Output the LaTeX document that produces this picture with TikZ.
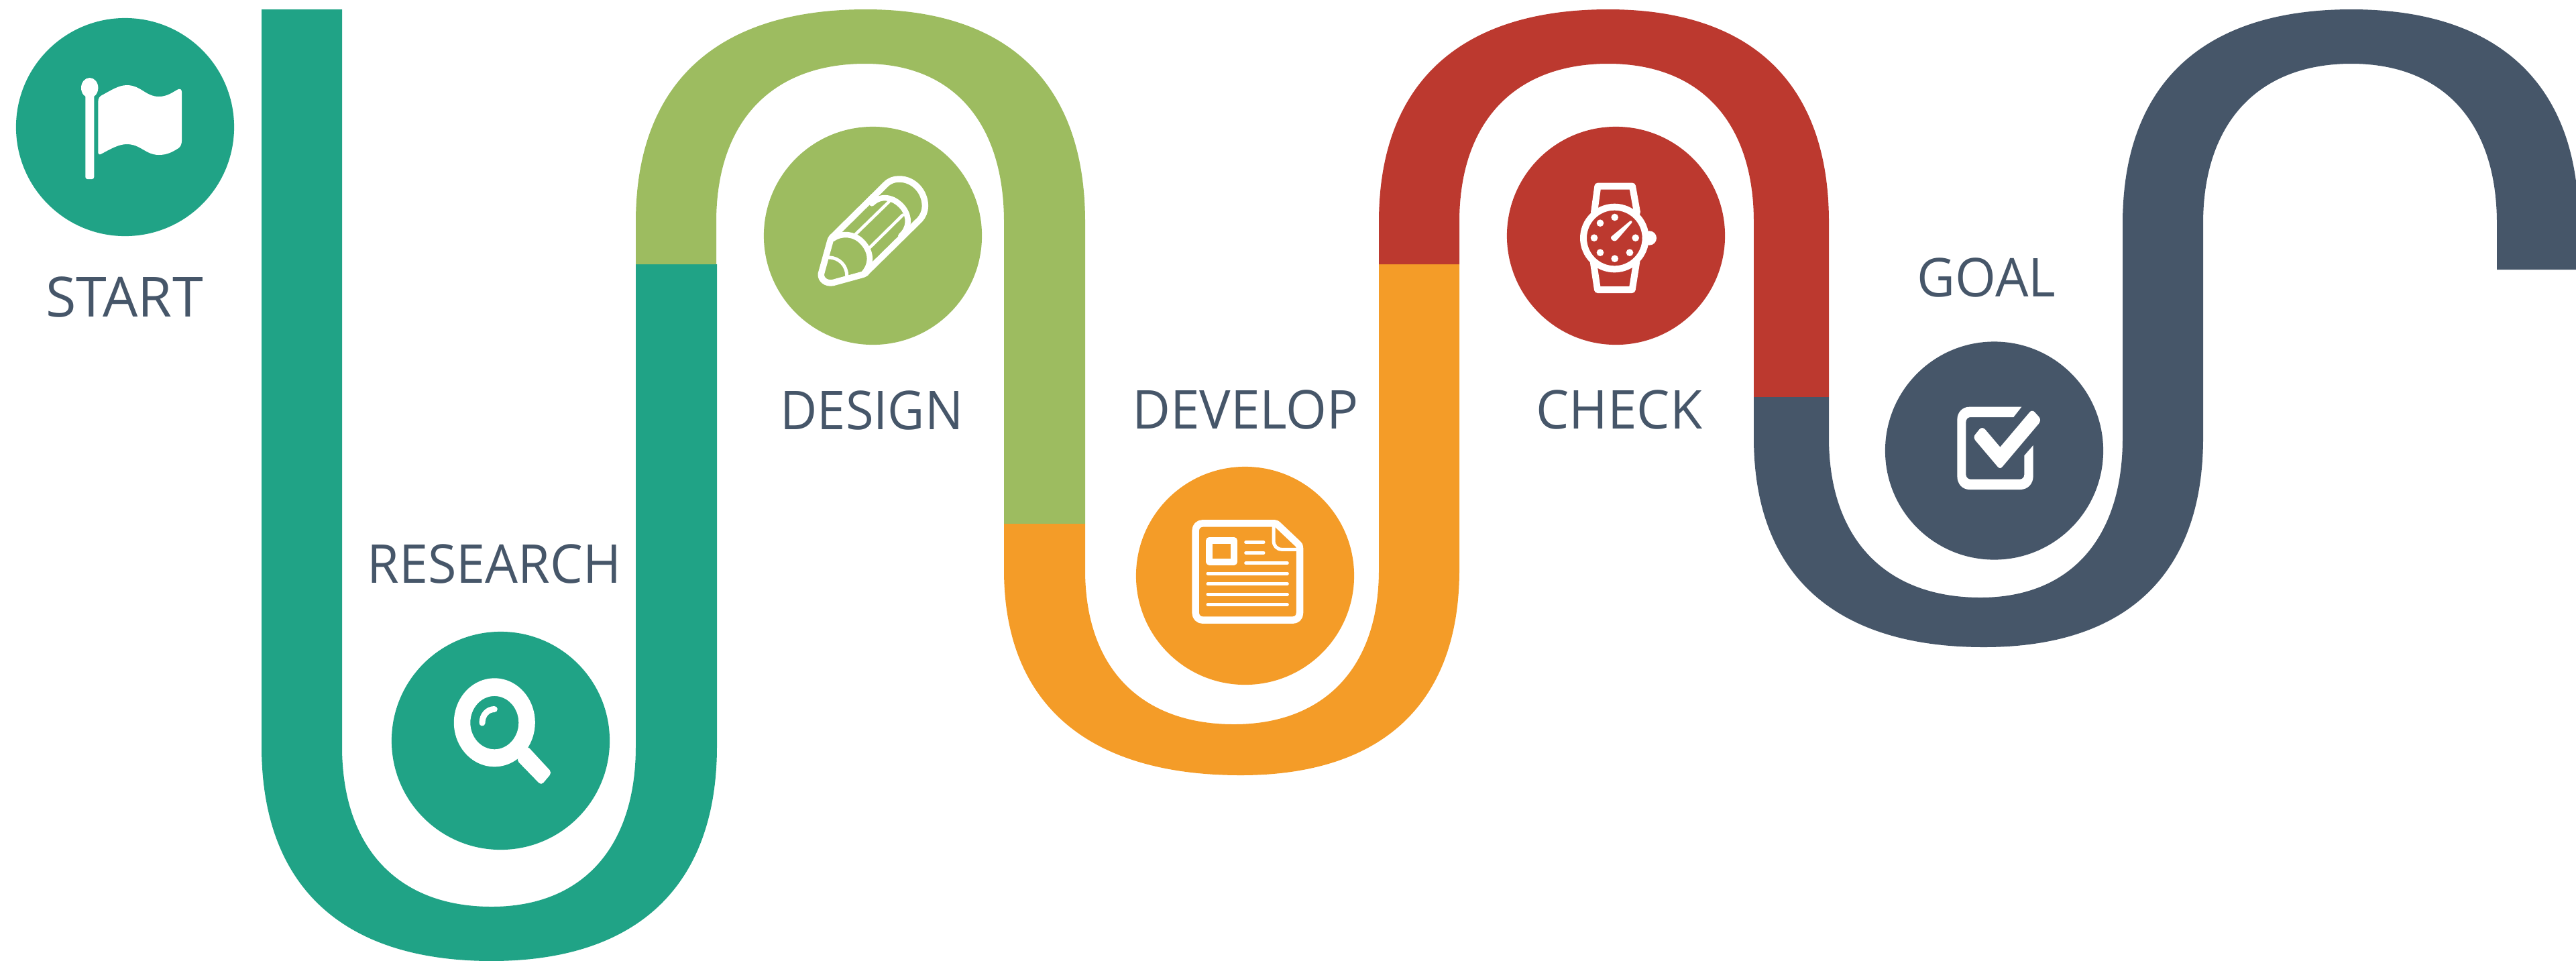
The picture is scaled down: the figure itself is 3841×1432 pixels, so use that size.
\documentclass[tikz,border=0pt]{standalone}
\usepackage{fontspec}
\usepackage{graphicx}
\setmainfont{Open Sans}
\definecolor{cteal}{HTML}{20A386}
\definecolor{cgreen}{HTML}{9DBC60}
\definecolor{corange}{HTML}{F49C28}
\definecolor{cred}{HTML}{BC392F}
\definecolor{cnavy}{HTML}{465669}
\tikzset{
  stagecircle/.style={circle,minimum size=3.25cm,inner sep=0pt,fill=#1},
  stagelabel/.style={anchor=base,inner sep=0pt,text=cnavy,font=\fontsize{22.7pt}{26pt}\selectfont},
  icon/.style={shift={#1},scale=0.33333},
  iconline/.style={draw=white,line width=#1,line join=round,line cap=round,fill=none}
}
\begin{document}
\begin{tikzpicture}[x=0.01cm,y=-0.01cm]
\clip (0,0) rectangle (3841,1432);
% ribbons
\fill[cteal] (390,14) -- (390,1113) .. controls (390,1321) and (510,1433) .. (733,1433) .. controls (950,1433) and (1069,1321) .. (1069,1113) -- (1069,394) -- (948,394) -- (948,1113) .. controls (948,1264) and (868,1352) .. (733,1352) .. controls (593,1352) and (510,1264) .. (510,1113) -- (510,14) -- cycle;
\fill[cgreen] (948,394) -- (948,331) .. controls (948,125) and (1068,14) .. (1291,14) .. controls (1504,14) and (1618,125) .. (1618,331) -- (1618,781) -- (1497,781) -- (1497,331) .. controls (1497,182) and (1420,95) .. (1290,95) .. controls (1150,95) and (1068,182) .. (1068,331) -- (1068,394) -- cycle;
\fill[corange] (1497,781) -- (1497,850) .. controls (1497,1049) and (1621,1156) .. (1850,1156) .. controls (2061,1156) and (2176,1049) .. (2176,850) -- (2176,394) -- (2056,394) -- (2056,850) .. controls (2056,995) and (1975,1080) .. (1840,1080) .. controls (1700,1080) and (1618,995) .. (1618,850) -- (1618,781) -- cycle;
\fill[cred] (2056,394) -- (2056,331) .. controls (2056,125) and (2176,14) .. (2398,14) .. controls (2612,14) and (2727,125) .. (2727,331) -- (2727,592) -- (2615,592) -- (2615,331) .. controls (2615,182) and (2535,95) .. (2398,95) .. controls (2258,95) and (2176,182) .. (2176,331) -- (2176,394) -- cycle;
\fill[cnavy] (2615,592) -- (2615,653) .. controls (2615,856) and (2735,965) .. (2958,965) .. controls (3171,965) and (3285,856) .. (3285,653) -- (3285,490) -- (3165,490) -- (3165,653) .. controls (3165,803) and (3087,891) .. (2953,891) .. controls (2811,891) and (2727,803) .. (2727,653) -- (2727,592) -- cycle;
\fill[cnavy] (3165,490) -- (3165,333) .. controls (3165,126) and (3284,14) .. (3506,14) .. controls (3726,14) and (3845,126) .. (3845,333) -- (3845,402) -- (3723,402) -- (3723,333) .. controls (3723,183) and (3643,95) .. (3506,95) .. controls (3367,95) and (3285,183) .. (3285,333) -- (3285,490) -- cycle;
% circles
\node[stagecircle=cteal] (cstart) at (186.5,189.5) {};
\node[stagecircle=cteal] (cresearch) at (746.5,1104.5) {};
\node[stagecircle=cgreen] (cdesign) at (1301.5,351.5) {};
\node[stagecircle=corange] (cdevelop) at (1856.5,858.5) {};
\node[stagecircle=cred] (ccheck) at (2409.5,351.5) {};
\node[stagecircle=cnavy] (cgoal) at (2973.5,672) {};
% labels
\node[stagelabel] (lstart) at (185.5,472) {\scalebox{1.035}{START}};
\node[stagelabel] (lresearch) at (737,869) {\scalebox{0.968}[1]{RESEARCH}};
\node[stagelabel] (ldesign) at (1300,640) {\scalebox{0.95}[1]{DESIGN}};
\node[stagelabel] (ldevelop) at (1857,639) {\scalebox{0.98}[1]{DEVELOP}};
\node[stagelabel] (lcheck) at (2414,639) {\scalebox{0.98}[1]{CHECK}};
\node[stagelabel] (lgoal) at (2962,442) {\scalebox{0.98}[1]{GOAL}};
% flag
\begin{scope}
\fill[white] (133.7,131) ellipse (12.7 and 15);
\fill[white,rounded corners=0.03cm] (127.3,140) -- (127.3,267) -- (140.3,267) -- (140.3,140) -- cycle;
\fill[white] (146.3,152) .. controls (146.3,146) and (149,143.5) .. (152,142) .. controls (165,135) and (177,127) .. (189,127) .. controls (210,127) and (217,144) .. (237,144) .. controls (250,144) and (258,137) .. (266,133) .. controls (269,132) and (271,134) .. (271,137) -- (271,210) .. controls (271,215) and (269,219) .. (266,221) .. controls (258,226) and (250,231) .. (237,231) .. controls (217,231) and (210,215) .. (189,215) .. controls (177,215) and (165,222) .. (152,229) .. controls (149,231) and (146.3,231) .. (146.3,227) -- cycle;
\end{scope}
% magnifier
\begin{scope}
\fill[white,even odd rule] (737.3,1077.3) ellipse (60.5 and 66) (737.3,1077.6) ellipse (36 and 39.7);
\fill[white,rounded corners=0.05cm] (786,1112) -- (823,1152) -- (807,1171) -- (770,1133) -- cycle;
\draw[iconline=0.9mm] (719,1078) .. controls (719,1066) and (727,1057.5) .. (737.3,1057.5);
\end{scope}
% pencil
\begin{scope}[icon={(1130,170)}]
\draw[iconline=0.95mm] (331,553) -- (572,315) .. controls (590,297) and (610,291) .. (632,291) .. controls (700,291) and (748,350) .. (748,410) .. controls (748,435) and (740,455) .. (725,472) -- (490,703) .. controls (485,710) and (480,716) .. (470,718) -- (335,755) .. controls (305,760) and (280,740) .. (283,715) -- (323,570) .. controls (325,563) and (327,558) .. (331,553) -- cycle;
\draw[iconline=0.85mm] (335,558) .. controls (375,530) and (430,535) .. (465,570) .. controls (505,610) and (515,665) .. (475,712);
\draw[iconline=0.85mm] (510,400) .. controls (550,360) and (610,370) .. (650,420) .. controls (680,460) and (680,510) .. (640,545);
\draw[iconline=0.45mm] (437,538) -- (587,392);
\draw[iconline=0.45mm] (501,597) -- (648,452);
\draw[iconline=0.5mm] (318,642) .. controls (365,642) and (398,680) .. (398,722);
\end{scope}
% document
\begin{scope}[icon={(1680,680)}]
\draw[iconline=1.05mm] (340,301) -- (660,301) .. controls (668,301) and (672,304) .. (676,308) -- (766,393) .. controls (772,398) and (774,404) .. (774,412) -- (774,702) .. controls (774,722) and (760,734) .. (742,734) -- (340,734) .. controls (322,734) and (308,720) .. (308,702) -- (308,333) .. controls (308,315) and (322,301) .. (340,301) -- cycle;
\draw[iconline=0.5mm] (657,305) -- (657,378) .. controls (657,402) and (672,418) .. (695,418) -- (770,418);
\draw[iconline=1mm] (370,377) rectangle (479.5,473);
\foreach \yy/\xa/\xb in {386/533/612,433/533/612,479/533/718,525/363/718,572/363/718,618/363/718,665/363/718}
  \draw[iconline=0.5mm] (\xa,\yy) -- (\xb,\yy);
\end{scope}
% watch
\begin{scope}[icon={(2230,170)}]
\draw[iconline=1mm] (532,555) circle (139);
\draw[iconline=1mm] (441,440) -- (457,323) -- (612,323) -- (633,440);
\draw[iconline=1mm] (437,660) -- (456,786) -- (611,786) -- (631,660);
\fill[white] (688,555) circle (32);
\foreach \xx/\yy in {533/462,468/488,441/554,468/620,533/647,600/620,626/554}
  \fill[white] (\xx,\yy) circle (16);
\fill[white] (518,548) -- (602,478) .. controls (608,474) and (614,480) .. (610,486) -- (546,560) .. controls (538,572) and (525,570) .. (518,560) .. controls (515,555) and (515,551) .. (518,548) -- cycle;
\end{scope}
% checkbox
\begin{scope}[icon={(2790,490)}]
\fill[white] (673,350) -- (440,350) .. controls (408,350) and (385,375) .. (385,407) -- (385,660) .. controls (385,695) and (408,720) .. (440,720) -- (667,720) .. controls (700,720) and (725,695) .. (725,660) -- (725,522) -- (685,568) -- (685,652) .. controls (685,665) and (677,674) .. (665,674) -- (445,674) .. controls (433,674) and (424,665) .. (424,652) -- (424,418) .. controls (424,405) and (433,396) .. (445,396) -- (637,396) -- cycle;
\fill[white] (577,530) -- (708,375) .. controls (714,367) and (724,365) .. (731,373) -- (750,394) .. controls (758,403) and (758,415) .. (750,425) -- (587,618) .. controls (580,626) and (573,626) .. (566,618) -- (466,500) .. controls (459,491) and (459,481) .. (466,473) -- (484,451) .. controls (491,442) and (502,442) .. (510,451) -- cycle;
\end{scope}
\end{tikzpicture}
\end{document}
